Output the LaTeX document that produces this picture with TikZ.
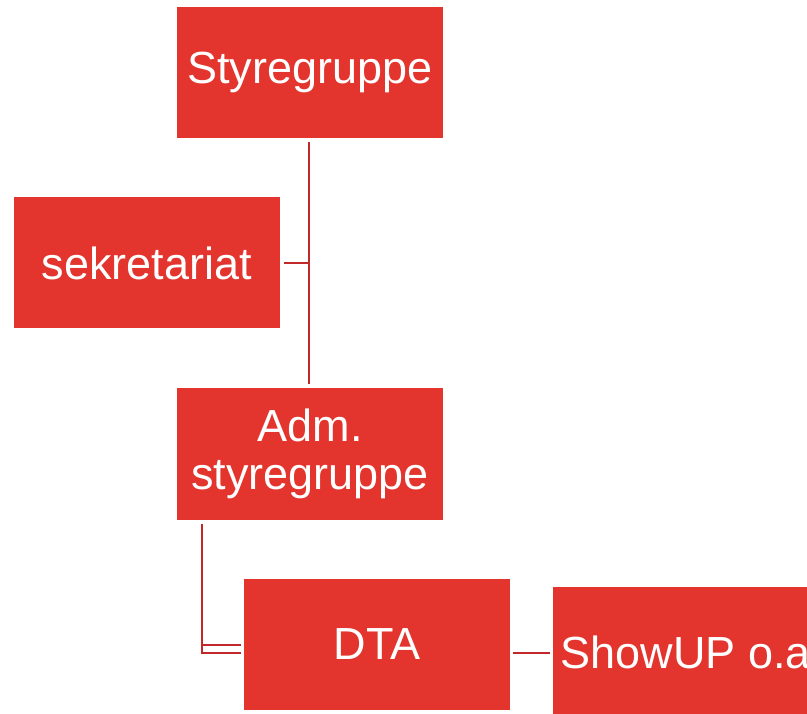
\documentclass[tikz,border=0pt]{standalone}
\usepackage{fontspec}
\setmainfont{Liberation Sans}
\usepackage{xcolor}
\usetikzlibrary{positioning}

\definecolor{boxred}{HTML}{E3352D}
\definecolor{linered}{HTML}{C0282A}

\tikzset{
  orgbox/.style={fill=boxred, text=white, minimum width=266pt, minimum height=131pt,
    inner sep=0pt, align=center, font=\fontsize{45}{48}\selectfont},
  orgline/.style={draw=linered, line width=2pt}
}

\begin{document}
\begin{tikzpicture}[x=1pt,y=-1pt]
  \clip (0,0) rectangle (807,714);
  \node[orgbox] (styre) at (310,72.5) {Styregruppe};
  \node[orgbox] (sekr) at (147,263) {sekretariat};
  \node[orgbox] (adm) at (310,454) {Adm.\\styregruppe};
  \node[orgbox] (dta) at (377,644.5) {DTA};
  \node[orgbox] (show) at (686,652.5) {ShowUP o.a};
  % connectors
  \draw[orgline, shorten <=4pt, shorten >=4pt] ([xshift=-1pt]styre.south) -- ([xshift=-1pt]adm.north);
  \draw[orgline, shorten <=4pt] (sekr.east) -- (sekr.east -| styre.south);
  \draw[orgline, shorten <=4pt, shorten >=3pt] ([xshift=25pt]adm.south west) |- ([yshift=-8pt]dta.west);
  \draw[orgline, shorten >=3pt] ([xshift=25pt]adm.south west |- dta.west) -- (dta.west);
  \draw[orgline, shorten <=3pt, shorten >=3pt] (dta.east |- show.west) -- (show.west);
\end{tikzpicture}
\end{document}
